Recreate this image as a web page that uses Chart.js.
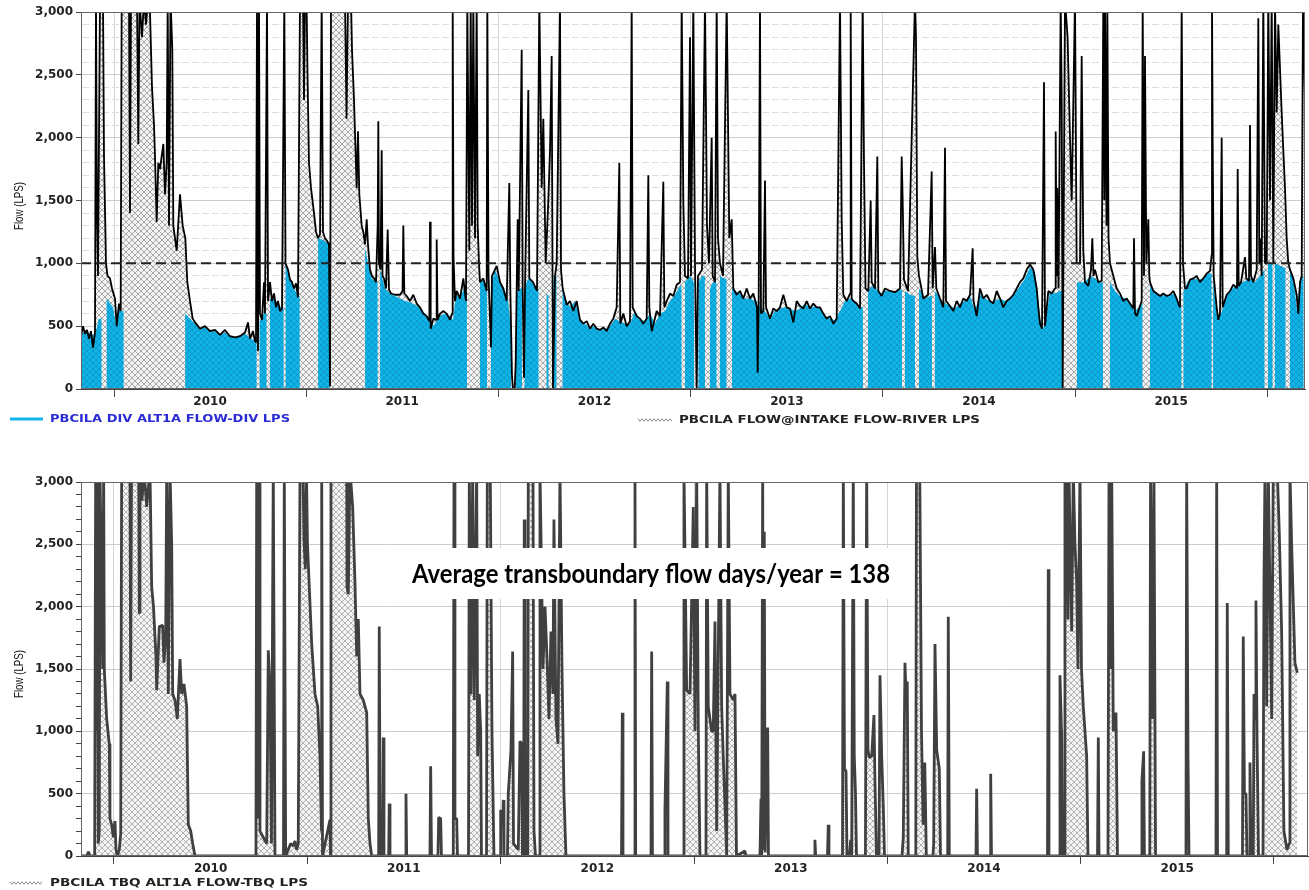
<!DOCTYPE html>
<html>
<head>
<meta charset="utf-8">
<title>PBCILA intake, diversion and transboundary flow</title>
<script src="https://cdn.jsdelivr.net/npm/chart.js@4.4.1/dist/chart.umd.min.js"></script>
<style>
    html, body { margin: 0; padding: 0; background: #fff; }
    body { width: 1309px; height: 890px; position: relative; overflow: hidden; }
    canvas { position: absolute; left: 0; display: block; }
    #topChart { top: 0; }
    #bottomChart { top: 440px; }
</style>
</head>
<body>
<canvas id="topChart" width="1309" height="440"></canvas>
<canvas id="bottomChart" width="1309" height="450"></canvas>
<script>
// days counted from 1 Jan 2010
const yearStarts = [0, 365, 730, 1096, 1461, 1826, 2191]
const yearLabels = ['2010', '2011', '2012', '2013', '2014', '2015']
const flowTickValues = [0, 500, 1000, 1500, 2000, 2500, 3000]
const flowTickLabels = ['0', '500', '1,000', '1,500', '2,000', '2,500', '3,000']
const thresholdFlow = 1000

// PBCILA FLOW@INTAKE FLOW-RIVER LPS
const riverDay = [
    -62.7, -58.9, -55.1, -51.3, -47.5, -43.7, -39.9, -36.1, -34.2, -32.3,
    -30.4, -26.6, -20.9, -19, -15.2, -12.4, -7.6, -3.8, 1.9, 5.1,
    9.5, 12.7, 14.6, 28.5, 30.4, 32.3, 43.7, 46.2, 48.5, 53.2,
    57, 60.8, 64.6, 68.4, 72.2, 76, 77.9, 81.1, 84.2, 87.4,
    93.7, 96.9, 100.1, 102, 104.5, 107.4, 110.8, 112.7, 119.1, 125.4,
    130.5, 135.5, 139.3, 144.4, 149.5, 155.8, 163.4, 172.9, 182.4, 191.9,
    201.4, 210.9, 220.4, 229.9, 239.4, 248.9, 254.6, 258.4, 264.1, 267.9,
    269.8, 271.7, 273.6, 275.5, 277.4, 281.2, 285, 286.9, 290.7, 292.6,
    296.4, 300.2, 304, 307.8, 311.6, 315.4, 319.2, 323.6, 325.9, 330.6,
    334.4, 338.2, 342, 345.8, 349.6, 353.4, 359.1, 361, 362.9, 365.8,
    367.7, 370.5, 374.3, 380, 383.8, 387.6, 391.4, 394.6, 397.1, 400.9,
    404.7, 408.5, 410.4, 412.3, 438.9, 441.8, 444.6, 450.3, 452.2, 456,
    461.1, 463.6, 466.1, 470.6, 473.7, 476.9, 480.1, 482.6, 486.4, 490.2,
    494, 497.8, 501, 502.2, 503.5, 506.4, 508.6, 510.2, 513, 516.8,
    520, 522.5, 526.3, 533.9, 543.4, 548.2, 549.7, 551.6, 556.1, 562.4,
    568.7, 575.1, 581.4, 587.7, 594.1, 599.1, 600.4, 601.7, 606.7, 612.2,
    613.1, 614.7, 619.4, 625.7, 632.1, 638.4, 642.2, 643.5, 645.1, 647.9,
    651.1, 657.4, 663.7, 668.8, 671.3, 675.1, 677.7, 680.2, 682.7, 685.9,
    689.1, 691, 693.5, 695.4, 701.7, 708.1, 709.3, 711.6, 716.3, 718.2,
    727.1, 733.4, 739.7, 746.1, 751.1, 753, 756.2, 758.1, 761.3, 763.2,
    765.1, 767, 768.9, 774.6, 776.5, 779, 780.9, 787.2, 789.1, 796.1,
    803.7, 808.1, 812.6, 815.7, 820.2, 825.2, 828.4, 831.6, 834.1, 837.9,
    841.1, 847.4, 849.3, 852.5, 860.1, 866.4, 872.7, 879.1, 885.4, 891.7,
    898.1, 904.4, 910.7, 917.1, 923.4, 929.7, 936.1, 942.4, 948.7, 955.1,
    960.1, 962, 967.7, 974.1, 980.4, 983.6, 985.5, 993.1, 999.4, 1005.7,
    1012.1, 1015.2, 1017.1, 1021.6, 1031.1, 1037.4, 1043.7, 1045.6, 1050.1, 1056.4,
    1062.7, 1069.1, 1075.4, 1078.6, 1081.7, 1084.9, 1090.6, 1094.4, 1096.3, 1100.7,
    1103.9, 1107.1, 1109.6, 1117.2, 1122.9, 1126.7, 1130.5, 1135.6, 1137.5, 1141.9,
    1145.1, 1147.6, 1151.4, 1157.1, 1164.1, 1169.1, 1173.6, 1176.7, 1183.1, 1189.4,
    1195.7, 1202.1, 1208.4, 1214.7, 1221.7, 1223, 1224.9, 1227.4, 1229.3, 1233.7,
    1236.9, 1238.8, 1246.4, 1252.7, 1259.1, 1265.4, 1271.7, 1278.1, 1284.4, 1290.7,
    1297.1, 1303.4, 1309.7, 1316.1, 1322.4, 1328.7, 1335.1, 1341.4, 1347.7, 1354.1,
    1360.4, 1366.7, 1373.1, 1379.4, 1382.6, 1385.7, 1392.1, 1398.4, 1399.7, 1401.6,
    1404.7, 1411.1, 1417.4, 1422.5, 1425, 1427.9, 1433.2, 1437.7, 1439.6, 1445.9,
    1450.3, 1452.2, 1458.6, 1464.9, 1474.4, 1483.9, 1493.4, 1496.6, 1498.5, 1501,
    1508.6, 1521.9, 1523.8, 1526.3, 1529.5, 1537.7, 1546.6, 1553.6, 1555.5, 1559.9,
    1562.4, 1569.4, 1575.7, 1578.9, 1580.8, 1588.4, 1594.7, 1601.1, 1607.4, 1613.7,
    1620.1, 1626.4, 1631.5, 1633.1, 1639.1, 1645.4, 1651.7, 1658.1, 1664.4, 1670.7,
    1677.1, 1683.4, 1689.7, 1696.1, 1702.4, 1708.7, 1715.1, 1721.4, 1727.7, 1734.1,
    1740.4, 1746.7, 1753.1, 1756.2, 1759.4, 1763.2, 1767, 1768.9, 1775.2, 1781.6,
    1787.9, 1789.2, 1791.1, 1792.2, 1794.6, 1798.7, 1800.6, 1802.5, 1806.9, 1811.8,
    1816.4, 1819.6, 1825.9, 1829.1, 1835.4, 1838.6, 1841.7, 1844.9, 1851.2, 1856.3,
    1858.8, 1861.1, 1863.9, 1870.2, 1876.6, 1879.7, 1881.6, 1882.9, 1885.8, 1887.3,
    1889.6, 1892.4, 1898.7, 1905.1, 1911.4, 1917.7, 1924.1, 1930.4, 1936.7, 1938,
    1939.9, 1943.1, 1949.4, 1952.6, 1954.5, 1957, 1958.9, 1961.4, 1965.2, 1967.1,
    1968.4, 1974.7, 1981.1, 1987.4, 1993.7, 2000.1, 2006.4, 2012.7, 2019.1, 2022.2,
    2025.4, 2028.6, 2031.1, 2034.9, 2038.1, 2044.4, 2050.7, 2057.1, 2063.4, 2069.7,
    2076.1, 2082.4, 2085.6, 2086.2, 2087.5, 2089.4, 2095.1, 2098.2, 2101.4, 2104.6,
    2106.5, 2114.1, 2120.4, 2126.7, 2133.7, 2135, 2136.9, 2141.3, 2148.9, 2151.4,
    2156.5, 2158.4, 2160.3, 2164.7, 2171.1, 2174.2, 2176.1, 2177.4, 2180.6, 2183.7,
    2186.9, 2190.1, 2193.2, 2196.4, 2199.6, 2202.7, 2205.9, 2209.1, 2212.2, 2218.6,
    2221.7, 2224.9, 2228.1, 2231.2, 2234.4, 2240.7, 2247.1, 2250.2, 2253.4, 2256.6,
    2259.1, 2262.9
]
const riverFlow = [
    420, 500, 440, 470, 400, 460, 330, 450, 3100, 1400,
    900, 3100, 3100, 1850, 1000, 900, 880, 800, 720, 500,
    680, 620, 3100, 3100, 1400, 3100, 3100, 1950, 3100, 2800,
    3100, 2900, 3100, 3000, 2400, 2100, 1850, 1330, 1800, 1750,
    1950, 1550, 1800, 3100, 1300, 3100, 2700, 1300, 1100, 1550,
    1300, 1200, 850, 700, 560, 520, 480, 500, 460, 470,
    430, 470, 420, 410, 420, 450, 530, 400, 460, 380,
    370, 3100, 300, 3100, 600, 550, 850, 600, 3100, 700,
    850, 700, 760, 650, 700, 620, 640, 3100, 1000, 950,
    870, 850, 800, 840, 730, 3100, 3100, 2300, 3100, 3100,
    2500, 1800, 1600, 1400, 1250, 1200, 1230, 3100, 1250, 1200,
    1180, 1150, 20, 3100, 3100, 2150, 3100, 3100, 2700, 2300,
    1600, 2050, 1550, 1300, 1250, 1150, 1350, 1150, 950, 900,
    880, 850, 1300, 2130, 1000, 950, 1900, 900, 880, 800,
    1270, 790, 760, 750, 750, 780, 1300, 760, 740, 700,
    750, 680, 650, 600, 580, 540, 1330, 480, 560, 550,
    1190, 550, 600, 620, 600, 550, 600, 3100, 1050, 700,
    780, 720, 880, 700, 3100, 1100, 3100, 1300, 3100, 1200,
    3100, 1300, 1000, 850, 880, 780, 3100, 900, 330, 900,
    980, 850, 800, 700, 1640, 800, 100, 0, 0, 200,
    800, 1350, 780, 2700, 800, 90, 800, 2380, 880, 850,
    780, 3100, 1600, 2150, 1000, 1500, 1900, 2650, 0, 900,
    1000, 3100, 950, 800, 670, 700, 620, 700, 550, 520,
    540, 480, 520, 480, 470, 490, 460, 520, 560, 650,
    1800, 520, 600, 500, 540, 3100, 650, 580, 560, 520,
    560, 1700, 650, 460, 620, 580, 1650, 650, 700, 760,
    740, 830, 850, 3100, 1500, 900, 880, 2800, 900, 3100,
    1000, 0, 900, 950, 3100, 1300, 1000, 2000, 900, 850,
    3100, 1200, 1000, 900, 3100, 1200, 1350, 800, 750, 780,
    720, 800, 720, 760, 650, 130, 700, 3100, 600, 620,
    1660, 650, 560, 640, 620, 650, 750, 650, 640, 530,
    700, 660, 640, 700, 640, 680, 650, 650, 600, 560,
    580, 520, 560, 3100, 1350, 750, 700, 760, 3100, 720,
    700, 680, 640, 3100, 1800, 800, 780, 1500, 850, 800,
    1850, 780, 740, 800, 780, 770, 800, 1850, 1500, 870,
    780, 3100, 2800, 1050, 900, 720, 750, 1730, 800, 1130,
    800, 720, 650, 1920, 700, 660, 620, 700, 650, 720,
    700, 750, 1120, 700, 580, 800, 720, 750, 700, 680,
    780, 720, 650, 700, 720, 750, 800, 850, 880, 950,
    990, 950, 800, 650, 520, 480, 2440, 500, 780, 760,
    800, 2050, 900, 1600, 800, 3100, 2350, 0, 3100, 2800,
    2000, 1500, 3100, 1000, 1000, 2650, 1100, 850, 820, 950,
    1200, 900, 950, 850, 860, 3100, 1500, 3100, 1300, 3100,
    1200, 1000, 900, 800, 760, 700, 720, 680, 640, 1200,
    600, 580, 660, 700, 3100, 900, 2650, 1000, 1350, 900,
    850, 780, 760, 740, 760, 740, 750, 780, 720, 680,
    650, 3100, 1000, 800, 800, 870, 880, 900, 850, 880,
    920, 940, 1070, 3100, 1950, 900, 650, 550, 600, 2000,
    650, 750, 780, 830, 800, 1750, 820, 850, 1050, 880,
    860, 2100, 900, 850, 950, 2950, 1000, 1200, 900, 3100,
    1000, 1000, 3100, 1500, 3100, 1000, 3100, 2200, 2900, 2200,
    1900, 1600, 1200, 1000, 950, 880, 750, 600, 850, 900,
    3100, 2300
]

// PBCILA DIV ALT1A FLOW-DIV LPS
const divDay = [
    -62.7, -55.1, -45.6, -36.1, -28.5, -23.8, -23.6, -14.1, -13.9, -7.6,
    -1.9, 4.4, 7.6, 13.3, 18.1, 18.3, 134.9, 135.2, 144.4, 153.9,
    163.4, 172.9, 182.4, 191.9, 201.4, 210.9, 220.4, 229.9, 239.4, 248.9,
    258.4, 267.9, 270.8, 271, 276.5, 276.7, 285, 289.8, 290, 296.2,
    296.4, 304, 311.6, 319.2, 322.2, 322.4, 325.9, 326, 334.4, 342,
    349.6, 352.6, 353, 387.6, 387.8, 395.2, 402.8, 409.5, 409.7, 476.9,
    477.1, 482.6, 490.2, 497.8, 500.8, 501, 505.4, 505.6, 514.9, 524.4,
    533.9, 543.4, 552.9, 562.4, 581.4, 590.9, 600.4, 606.1, 619.4, 628.9,
    638.4, 644.1, 649.8, 657.4, 665, 670.5, 670.7, 695.2, 695.4, 703,
    708.5, 708.7, 716.1, 716.3, 718.5, 723.9, 733.4, 742.9, 748.6, 754.1,
    754.3, 763.6, 763.8, 771.4, 775, 775.2, 779.8, 780, 786.6, 794.2,
    801.8, 806.4, 806.6, 821.6, 821.8, 825.4, 825.6, 834.9, 835.1, 840.6,
    840.8, 852, 852.2, 858.8, 866.4, 875.9, 885.4, 894.9, 904.4, 913.9,
    923.4, 932.9, 942.4, 951.9, 961.4, 970.9, 980.4, 989.9, 999.4, 1008.9,
    1018.4, 1027.9, 1037.4, 1046.9, 1056.4, 1065.9, 1075.4, 1078.1, 1078.3, 1084.7,
    1084.9, 1094.4, 1101.8, 1102, 1110.4, 1110.6, 1117.2, 1122.7, 1122.9, 1132.2,
    1132.4, 1138.1, 1144.6, 1144.8, 1151.2, 1151.4, 1159, 1163.6, 1163.8, 1174.1,
    1174.3, 1179.9, 1189.4, 1198.9, 1208.4, 1217.9, 1222.3, 1223, 1224, 1227.4,
    1236.9, 1246.4, 1255.9, 1265.4, 1274.9, 1284.4, 1293.9, 1303.4, 1312.9, 1322.4,
    1331.9, 1341.4, 1350.9, 1360.4, 1369.9, 1379.4, 1388.9, 1398.4, 1407.9, 1417.4,
    1422.9, 1423.1, 1432.4, 1432.6, 1440.2, 1447.8, 1455.4, 1464.9, 1474.4, 1483.9,
    1493.4, 1497, 1497.2, 1502.7, 1502.9, 1512.4, 1521.7, 1521.9, 1529.3, 1529.5,
    1540.9, 1550.4, 1554, 1554.2, 1559.7, 1559.9, 1569.4, 1578.9, 1588.4, 1597.9,
    1607.4, 1616.9, 1626.4, 1635.9, 1645.4, 1654.9, 1664.4, 1673.9, 1683.4, 1692.9,
    1702.4, 1711.9, 1721.4, 1730.9, 1740.4, 1749.9, 1755.6, 1759.4, 1765.1, 1770.8,
    1778.4, 1787.9, 1797.4, 1801, 1801.2, 1829.5, 1829.7, 1835.4, 1844.9, 1854.4,
    1863.9, 1873.4, 1878.9, 1879.1, 1892.2, 1892.4, 1901.9, 1911.4, 1920.9, 1930.4,
    1939.9, 1949.4, 1954, 1954.2, 1968.2, 1968.4, 1977.9, 1987.4, 1996.9, 2006.4,
    2015.9, 2025.4, 2028.1, 2028.2, 2031.9, 2032, 2040.6, 2050.1, 2059.6, 2069.1,
    2078.6, 2085.3, 2085.4, 2088.1, 2088.3, 2093.8, 2098.2, 2105.2, 2112.8, 2120.4,
    2129.9, 2139.4, 2148.9, 2158.4, 2167.9, 2177.4, 2185.8, 2186, 2192.4, 2192.6,
    2201, 2201.2, 2205.7, 2205.9, 2215.4, 2225.7, 2225.9, 2234.2, 2234.4, 2242,
    2247.7, 2253.4, 2259.9, 2260.1, 2262.9
]
const divFlow = [
    430, 470, 440, 430, 560, 560, 0, 0, 720, 680,
    650, 500, 640, 620, 620, 0, 0, 600, 560, 520,
    480, 490, 460, 460, 430, 450, 420, 410, 420, 440,
    410, 380, 370, 0, 0, 540, 600, 600, 0, 0,
    720, 720, 680, 640, 640, 0, 0, 1000, 880, 800,
    740, 740, 0, 0, 1200, 1190, 1170, 1150, 0, 0,
    1120, 1000, 880, 850, 850, 0, 0, 950, 800, 760,
    740, 720, 700, 690, 650, 600, 560, 500, 580, 600,
    580, 550, 750, 720, 800, 720, 0, 0, 850, 870,
    800, 0, 0, 330, 850, 950, 850, 780, 700, 500,
    0, 0, 750, 800, 800, 0, 0, 800, 880, 850,
    800, 800, 0, 0, 750, 750, 0, 0, 900, 900,
    0, 0, 800, 700, 650, 700, 560, 520, 490, 500,
    470, 480, 500, 560, 540, 520, 520, 620, 560, 540,
    600, 520, 600, 620, 700, 750, 820, 820, 0, 0,
    850, 900, 850, 0, 0, 850, 900, 900, 0, 0,
    800, 850, 850, 0, 0, 900, 880, 880, 0, 0,
    800, 780, 760, 720, 720, 700, 700, 130, 700, 650,
    620, 560, 620, 640, 650, 640, 620, 640, 680, 640,
    660, 640, 580, 560, 550, 620, 700, 720, 690, 650,
    650, 0, 0, 780, 820, 800, 760, 780, 780, 770,
    790, 790, 0, 0, 780, 750, 740, 0, 0, 800,
    720, 740, 740, 0, 0, 780, 720, 680, 660, 640,
    680, 700, 740, 620, 760, 720, 700, 700, 720, 700,
    720, 760, 820, 880, 970, 930, 750, 560, 480, 560,
    780, 760, 780, 780, 0, 0, 850, 850, 850, 900,
    880, 850, 850, 0, 0, 850, 780, 740, 720, 680,
    620, 660, 680, 0, 0, 820, 780, 740, 750, 750,
    760, 650, 650, 0, 0, 780, 860, 880, 870, 880,
    920, 920, 0, 0, 880, 650, 550, 620, 750, 780,
    820, 840, 860, 880, 850, 900, 950, 0, 0, 1000,
    1000, 0, 0, 1000, 980, 960, 0, 0, 950, 850,
    620, 880, 900, 0, 0
]

// PBCILA TBQ ALT1A FLOW-TBQ LPS
const tbqDay = [
    -62.3, -51, -48.2, -45.3, -36.5, -34.6, -32.7, -31.5, -29.7, -27.8,
    -26.4, -21.3, -19.5, -18.3, -13.8, -8.9, -7.6, -4.3, -1.3, 1.9,
    3.8, 6.2, 10, 12.7, 14.5, 30.2, 31.5, 33.1, 46.7, 47.8,
    49.1, 52.9, 56.7, 61.8, 68, 71.2, 74.6, 79.3, 80.7, 85.6,
    92, 94.4, 97.7, 99.6, 102.6, 105.8, 109, 110.9, 115.2, 119.6,
    124.7, 127.9, 132.2, 137.3, 140.4, 144.9, 148.7, 153, 268.2, 269.6,
    272, 274.5, 275.8, 282, 288.5, 291.5, 294.7, 297.5, 300.9, 304.1,
    320.2, 321.7, 324.3, 333.8, 338.7, 341.9, 345.1, 348.1, 351.4, 357,
    358.9, 361.4, 363.6, 365.5, 373.5, 379.7, 384.8, 389.1, 392, 392.4,
    393.9, 408, 409, 409.9, 439.6, 440.1, 442.6, 445.8, 450.9, 455.2,
    458.5, 461.5, 464.7, 470.9, 477.4, 480.4, 483.6, 486.8, 500, 501.1,
    503, 507.6, 508.7, 510, 518.9, 520, 521.4, 550.6, 551.6, 552.9,
    596.9, 598.2, 599.8, 612, 613.4, 617.1, 618.6, 640.9, 642.3, 644.1,
    647.4, 648.9, 669.7, 671.2, 674.4, 677.6, 680.6, 685.1, 687, 690,
    692.7, 694.2, 703.7, 705.2, 710.8, 714, 717.8, 729.2, 730.5, 734.2,
    735.4, 736.7, 743.3, 744.8, 749.9, 753.1, 754.7, 763.7, 766.9, 770.1,
    771.6, 773.9, 775, 776.4, 781.5, 782.6, 791.5, 793.4, 796.2, 803.4,
    804.7, 810.4, 814.2, 817.9, 821.7, 825.5, 829.2, 831.1, 834.9, 838.7,
    842.5, 846.3, 850, 853.8, 958.7, 960.2, 961.5, 982.8, 984.2, 985.5,
    1014.4, 1015.7, 1017.2, 1039.9, 1040.8, 1045.2, 1046.5, 1075.4, 1076.7, 1081.8,
    1088.1, 1094.3, 1097.5, 1100.7, 1103.8, 1106.9, 1118.3, 1119.6, 1122.6, 1129,
    1132, 1135.3, 1138.5, 1144.7, 1147.9, 1150.9, 1157.4, 1160.4, 1163.6, 1169.8,
    1173.1, 1175.9, 1191.9, 1193.7, 1220.3, 1222.2, 1223.5, 1225.4, 1226.5, 1228.4,
    1230, 1234.8, 1236.3, 1322.5, 1324.1, 1325.5, 1347.8, 1349.3, 1350.6, 1376.2,
    1377.7, 1379.9, 1382.8, 1384.7, 1389.5, 1391.6, 1393.5, 1396.5, 1398.4, 1400.7,
    1402.6, 1419.5, 1421.8, 1424.3, 1426.8, 1431.3, 1435.6, 1437.5, 1440.4, 1445.1,
    1447, 1450.2, 1453.2, 1455.5, 1488.6, 1491, 1494.2, 1496.1, 1498.5, 1500.4,
    1514.6, 1515.9, 1522.1, 1525.4, 1528.4, 1531.6, 1534.5, 1547.1, 1548.4, 1550.9,
    1554.1, 1559, 1561.3, 1574.9, 1576, 1577.9, 1628.3, 1629.6, 1631.1, 1654.8,
    1656.1, 1657.6, 1763.4, 1764.9, 1766.2, 1785.5, 1787, 1790.2, 1791.7, 1794.6,
    1796.4, 1799.6, 1802.1, 1804, 1809.1, 1812.1, 1815.3, 1818.5, 1821, 1824.8,
    1827.6, 1831, 1837.4, 1839.9, 1857.9, 1859.4, 1860.7, 1877.7, 1879.6, 1882.4,
    1884.7, 1887.7, 1892.8, 1895.6, 1940.5, 1941.8, 1945, 1946.5, 1956.6, 1958.1,
    1961.3, 1964.5, 1967.5, 2025, 2026.3, 2028.8, 2030.7, 2081.7, 2083, 2084.6,
    2101.9, 2103, 2104.9, 2131.7, 2133.2, 2135.4, 2138.3, 2140.2, 2144.5, 2145.9,
    2147.8, 2152.1, 2153.5, 2155.4, 2157.2, 2159.1, 2162, 2170.5, 2172.4, 2174.3,
    2177.5, 2180.5, 2183.7, 2186.9, 2189.9, 2197.4, 2201.2, 2205.7, 2210, 2215.7,
    2220.1, 2221.4, 2224.6, 2230.8, 2235.2
]
const tbqFlow = [
    0, 0, 35, 0, 0, 3100, 1000, 3100, 100, 200,
    3100, 1500, 3100, 1500, 1100, 900, 300, 250, 150, 280,
    50, 0, 50, 180, 3100, 3100, 1400, 3100, 3100, 1950,
    3100, 2850, 3100, 2800, 3100, 2160, 2000, 1600, 1330, 1840,
    1850, 1550, 1750, 3100, 1300, 3100, 2500, 1300, 1250, 1100,
    1580, 1300, 1380, 1200, 250, 200, 100, 0, 0, 3100,
    300, 3100, 200, 150, 100, 1650, 1350, 100, 3100, 0,
    0, 3100, 0, 100, 80, 120, 50, 100, 3100, 3100,
    2535, 2300, 3100, 2500, 1700, 1300, 1200, 800, 200, 3100,
    0, 290, 0, 3100, 3100, 2160, 2100, 3100, 2800, 2200,
    1600, 1900, 1300, 1250, 1150, 300, 100, 0, 0, 1840,
    0, 0, 950, 0, 0, 420, 0, 0, 500, 0,
    0, 720, 0, 0, 310, 300, 0, 0, 3100, 300,
    300, 0, 0, 3100, 1300, 3100, 1250, 3100, 800, 1300,
    1000, 0, 0, 3100, 3100, 1000, 0, 0, 370, 250,
    450, 0, 0, 500, 850, 1640, 100, 50, 920, 900,
    0, 0, 2700, 0, 0, 3100, 3100, 200, 0, 0,
    3100, 1500, 2000, 1600, 1100, 1800, 1300, 2700, 1100, 900,
    3100, 1500, 500, 0, 0, 1150, 0, 0, 3100, 0,
    0, 1640, 0, 0, 370, 1400, 0, 0, 3100, 1330,
    1300, 2800, 1000, 3100, 1000, 0, 0, 3100, 1200, 1000,
    1000, 1880, 200, 3100, 1200, 800, 0, 3100, 1300, 1250,
    1300, 0, 40, 0, 0, 460, 0, 3100, 50, 2600,
    30, 1030, 0, 0, 130, 0, 0, 250, 0, 0,
    3100, 700, 680, 0, 0, 130, 0, 3100, 800, 500,
    0, 0, 3100, 850, 790, 800, 1130, 600, 0, 0,
    1450, 800, 400, 0, 0, 150, 1550, 1300, 1400, 0,
    0, 3100, 3100, 1000, 250, 750, 0, 0, 100, 1700,
    850, 700, 0, 0, 1920, 0, 0, 540, 0, 0,
    660, 0, 0, 2300, 0, 0, 1450, 950, 0, 0,
    3100, 3100, 1900, 3100, 1800, 3100, 2500, 2200, 1500, 3100,
    1500, 1200, 800, 0, 0, 950, 0, 0, 3100, 1500,
    3100, 1000, 1150, 0, 0, 600, 840, 0, 0, 3100,
    1100, 3100, 0, 0, 3100, 800, 0, 0, 3100, 0,
    0, 2030, 0, 0, 1760, 500, 500, 0, 0, 750,
    0, 0, 1300, 1100, 2050, 1000, 0, 0, 2240, 3100,
    1200, 3100, 2100, 1100, 3100, 3100, 2600, 1800, 200, 50,
    100, 3100, 2500, 1550, 1470
]

const topRange = { min: -62.7, max: 2262.9 }
const bottomRange = { min: -62.3, max: 2255.5 }
const yearMids = yearLabels.map((label, i) => (yearStarts[i] + yearStarts[i + 1]) / 2)

Chart.defaults.font.family = '"DejaVu Sans", "Liberation Sans", Arial, sans-serif'
Chart.defaults.color = '#222'

const xy = (days, values) => days.map((d, i) => ({ x: d, y: values[i] }))

function hatchPattern(bg, fg) {
    const size = 6
    const tile = document.createElement('canvas')
    tile.width = size
    tile.height = size
    const g = tile.getContext('2d')
    g.fillStyle = bg
    g.fillRect(0, 0, size, size)
    g.strokeStyle = fg
    g.lineWidth = 1
    g.beginPath()
    g.moveTo(-1, -1)
    g.lineTo(size + 1, size + 1)
    g.moveTo(size + 1, -1)
    g.lineTo(-1, size + 1)
    g.stroke()
    return g.createPattern(tile, 'repeat')
}

const isYearStart = ctx => ctx.tick !== undefined && yearStarts.includes(ctx.tick.value)
const isMajorFlow = ctx => ctx.tick !== undefined && ctx.tick.value % 500 === 0

function xScale(range, axisHeight) {
    return {
        type: 'linear',
        min: range.min,
        max: range.max,
        afterBuildTicks: scale => {
            const ticks = yearStarts.concat(yearMids).map(value => ({ value }))
            scale.ticks = ticks.sort((a, b) => a.value - b.value)
        },
        afterFit: scale => { scale.height = axisHeight },
        ticks: {
            autoSkip: false,
            maxRotation: 0,
            minRotation: 0,
            padding: -2,
            color: '#222',
            font: { size: 12, weight: 'bold' },
            callback: value => {
                const i = yearMids.indexOf(value)
                return i >= 0 ? yearLabels[i] : ''
            }
        },
        grid: {
            color: ctx => isYearStart(ctx) ? '#d4d4d4' : 'transparent',
            tickColor: ctx => isYearStart(ctx) ? '#444' : 'transparent',
            tickLength: 8
        },
        border: { color: '#444' }
    }
}

function yScale(minorLines) {
    return {
        min: 0,
        max: 3000,
        afterFit: scale => { scale.width = 81 },
        ticks: {
            stepSize: 100,
            autoSkip: false,
            padding: 3,
            color: '#222',
            font: { size: 12, weight: 'bold' },
            callback: value => {
                const i = flowTickValues.indexOf(value)
                return i >= 0 ? flowTickLabels[i] : ''
            }
        },
        grid: {
            tickLength: 5,
            color: ctx => isMajorFlow(ctx) ? '#cdcdcd' : (minorLines ? '#dedede' : 'transparent'),
            tickColor: ctx => isMajorFlow(ctx) || !minorLines ? '#444' : 'transparent'
        },
        border: {
            color: '#444',
            dash: ctx => minorLines && ctx.tick !== undefined && !isMajorFlow(ctx) ? [7, 3] : []
        }
    }
}

function fitText(ctx, text, x, y, width, font, color) {
    ctx.save()
    ctx.font = font
    ctx.fillStyle = color
    ctx.textBaseline = 'middle'
    ctx.textAlign = 'left'
    const w = ctx.measureText(text).width
    ctx.translate(x, y)
    ctx.scale(width / w, 1)
    ctx.fillText(text, 0, 0)
    ctx.restore()
}

function axisTitle(ctx, cx, cy) {
    ctx.save()
    ctx.font = '12px "Liberation Sans", Arial, sans-serif'
    ctx.fillStyle = '#111'
    ctx.textAlign = 'center'
    ctx.textBaseline = 'middle'
    const text = 'Flow (LPS)'
    const w = ctx.measureText(text).width
    ctx.translate(cx, cy)
    ctx.rotate(-Math.PI / 2)
    ctx.scale(48 / w, 1)
    ctx.fillText(text, 0, 0)
    ctx.restore()
}

function frame(ctx, area) {
    ctx.save()
    ctx.strokeStyle = '#666'
    ctx.lineWidth = 1
    ctx.strokeRect(area.left + 0.5, area.top + 0.5, area.right - area.left - 1, area.bottom - area.top - 1)
    ctx.restore()
}

function hatchSample(ctx, x0, x1, y) {
    ctx.save()
    ctx.strokeStyle = '#8a8a8a'
    ctx.lineWidth = 1
    ctx.beginPath()
    for (let x = x0, k = 0; x <= x1; x += 2, k++) {
        const yy = y + (k % 2 ? 1.3 : -1.3)
        if (k === 0) ctx.moveTo(x, yy)
        else ctx.lineTo(x, yy)
    }
    ctx.stroke()
    ctx.restore()
}

const legendFont = 'bold 10px "DejaVu Sans", Arial, sans-serif'

const topDecor = {
    id: 'topDecor',
    afterDraw(chart) {
        const ctx = chart.ctx
        frame(ctx, chart.chartArea)
        axisTitle(ctx, 20, 206)

        ctx.save()
        ctx.strokeStyle = '#12b6ea'
        ctx.lineWidth = 3
        ctx.beginPath()
        ctx.moveTo(10, 419)
        ctx.lineTo(43, 419)
        ctx.stroke()
        ctx.restore()
        fitText(ctx, chart.data.datasets[2].label, 50, 419, 240, legendFont, '#2b2bd6')

        hatchSample(ctx, 638, 672, 420)
        fitText(ctx, chart.data.datasets[1].label, 679, 420, 301, legendFont, '#222')
    }
}

const bottomDecor = {
    id: 'bottomDecor',
    afterDraw(chart) {
        const ctx = chart.ctx
        frame(ctx, chart.chartArea)
        axisTitle(ctx, 20, 234)

        hatchSample(ctx, 10, 43, 443)
        fitText(ctx, chart.data.datasets[0].label, 50, 443, 258, legendFont, '#222')

        ctx.save()
        ctx.fillStyle = '#fff'
        ctx.fillRect(402, 108, 491, 51)
        ctx.restore()
        ctx.save()
        ctx.font = 'bold 27px Lato, "Open Sans", sans-serif'
        ctx.fillStyle = '#000'
        ctx.textBaseline = 'alphabetic'
        const text = 'Average transboundary flow days/year = 138'
        const w = ctx.measureText(text).width
        ctx.translate(412, 143)
        ctx.scale(478 / w, 1)
        ctx.fillText(text, 0, 0)
        ctx.restore()
    }
}

const commonOptions = {
    responsive: false,
    animation: false,
    events: [],
    elements: { point: { radius: 0 }, line: { tension: 0, borderJoinStyle: 'bevel' } },
    plugins: { legend: { display: false }, tooltip: { enabled: false } }
}

const grayHatch = hatchPattern('#f3f3f3', '#a9a9a9')
const cyanHatch = hatchPattern('#10b3e5', '#0b9acb')
const tbqHatch = hatchPattern('#f4f4f4', '#b3b3b3')

new Chart(document.getElementById('topChart'), {
    type: 'line',
    data: {
        datasets: [
            {
                label: 'threshold',
                data: [{ x: topRange.min, y: thresholdFlow }, { x: topRange.max, y: thresholdFlow }],
                borderColor: '#222',
                borderWidth: 2,
                borderDash: [10, 5],
                fill: false,
                order: 0
            },
            {
                label: 'PBCILA FLOW@INTAKE FLOW-RIVER LPS',
                data: xy(riverDay, riverFlow),
                borderColor: '#000',
                borderWidth: 1.8,
                fill: false,
                order: 1
            },
            {
                label: 'PBCILA DIV ALT1A FLOW-DIV LPS',
                data: xy(divDay, divFlow),
                borderColor: 'transparent',
                backgroundColor: cyanHatch,
                fill: 'origin',
                order: 2
            },
            {
                label: 'river area',
                data: xy(riverDay, riverFlow),
                borderColor: 'transparent',
                backgroundColor: grayHatch,
                fill: 'origin',
                order: 3
            }
        ]
    },
    options: {
        ...commonOptions,
        layout: { padding: { top: 12, right: 4, left: 0, bottom: 0 } },
        scales: { x: xScale(topRange, 51), y: yScale(true) }
    },
    plugins: [topDecor]
})

new Chart(document.getElementById('bottomChart'), {
    type: 'line',
    data: {
        datasets: [
            {
                label: 'PBCILA TBQ ALT1A FLOW-TBQ LPS',
                data: xy(tbqDay, tbqFlow),
                borderColor: '#404040',
                borderWidth: 2.8,
                backgroundColor: tbqHatch,
                fill: 'origin'
            }
        ]
    },
    options: {
        ...commonOptions,
        layout: { padding: { top: 42, right: 1, left: 0, bottom: 0 } },
        scales: { x: xScale(bottomRange, 34), y: yScale(false) }
    },
    plugins: [bottomDecor]
})
</script>
</body>
</html>
